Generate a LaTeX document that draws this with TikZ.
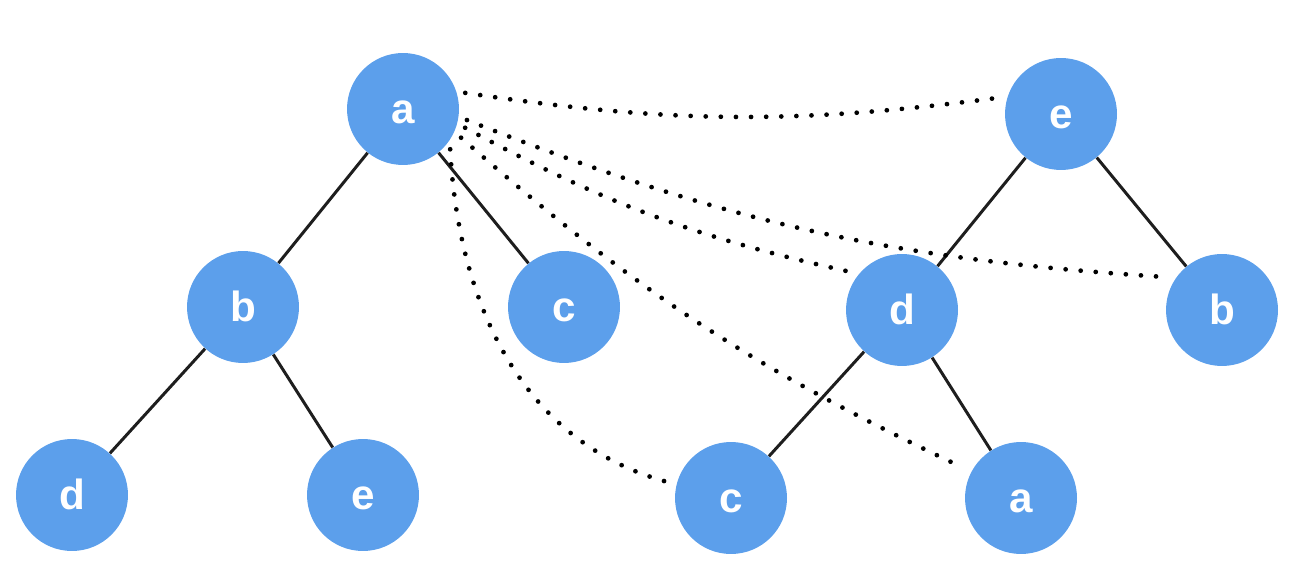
\documentclass[tikz,border=0pt]{standalone}
\usepackage{fontspec}
\setsansfont{Liberation Sans}
\usepackage{tikz}
\usepackage{xcolor}
\definecolor{nodeblue}{HTML}{5C9FEB}
\definecolor{edgegray}{HTML}{1E1E1E}

\begin{document}
\begin{tikzpicture}[x=0.02cm, y=0.02cm,
		vertex/.style={circle, fill=nodeblue, minimum size=2.24cm, inner sep=0pt, text=white,
			font=\sffamily\bfseries\fontsize{24}{24}\selectfont, text height=16pt, text depth=0pt},
		tree/.style={draw=edgegray, line width=1.7pt},
		match/.style={line width=2.7pt, line cap=round, dash pattern=on 0pt off 8.6pt,
			shorten <=5pt, shorten >=5pt}]
			\useasboundingbox (0,0) rectangle (1294,-580);
			% left tree
			\node[vertex] (a1) at (403,-109) {a};
			\node[vertex] (b1) at (243,-307) {b};
			\node[vertex] (c1) at (564,-307) {c};
			\node[vertex] (d1) at (72,-495) {d};
			\node[vertex] (e1) at (363,-495) {e};
			% right tree
			\node[vertex] (e2) at (1061,-114) {e};
			\node[vertex] (d2) at (902,-310) {d};
			\node[vertex] (b2) at (1222,-310) {b};
			\node[vertex] (c2) at (731,-498) {c};
			\node[vertex] (a2) at (1021,-498) {a};
			\foreach \u/\v in {a1/b1,a1/c1,b1/d1,b1/e1,e2/d2,e2/b2,d2/c2,d2/a2} {
				\draw[tree] (\u) -- (\v);
			}
			% dotted links from the root
			\draw[match] (a1.18) to[bend right=8] (e2.162);
			\draw[match] (a1.-8) to[bend right=9] (b2.145);
			\draw[match] (a1.-15) to[bend right=8] (d2.140);
			\draw[match] (a1.-24) to[bend right=8] (a2.152);
			\draw[match] (a1.-34) to[out=-87, in=165] (c2.166);
		\end{tikzpicture}
\end{document}
